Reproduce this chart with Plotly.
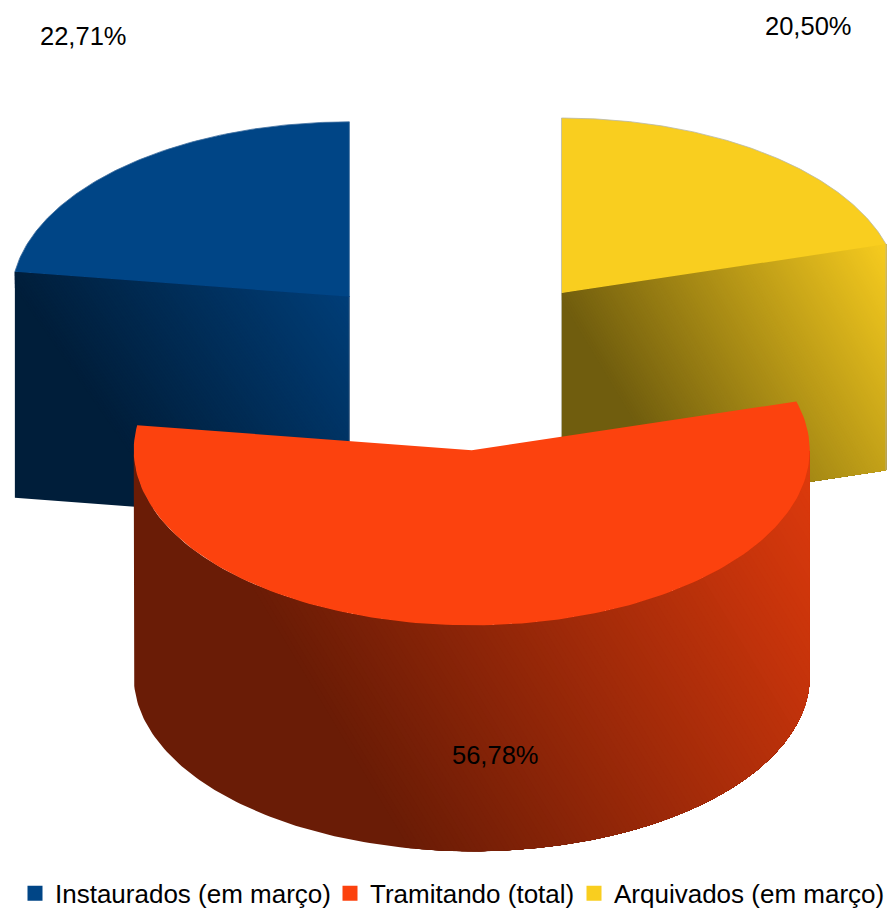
import numpy as np
import plotly.graph_objects as go

# Data
categories = ["Instaurados (em março)", "Tramitando (total)", "Arquivados (em março)"]
values = [22.71, 56.78, 20.50]
colors = ["#004586", "#FC420E", "#F9CE1F"]
label_xy = [(83, 36), (495, 755), (808, 26)]
legend_text_x = [55, 370, 614]

# Drawing order of slices clockwise from 12 o'clock
clockwise = [2, 1, 0]

# Pseudo-3D projection (page pixels on 1:1 hidden axes)
CX, CY, RX, RY, DEPTH, EXPLODE = 460.0, 363.0, 338.0, 175.0, 226.0, 0.5
FONT = "Liberation Sans"
STEP = 0.004
W, H = 892, 915

total = sum(values)
spans = {}
cursor = 0.0
for i in clockwise:
    a = values[i] / total * 2 * np.pi
    spans[i] = (cursor, cursor + a)
    cursor += a


def apex(i):
    a0, a1 = spans[i]
    mid = (a0 + a1) / 2
    return CX + EXPLODE * RX * np.sin(mid), CY - EXPLODE * RY * np.cos(mid)


def rim(i, t):
    ax, ay = apex(i)
    return ax + RX * np.sin(t), ay - RY * np.cos(t)


def rgb_scale(hex_color, s):
    r, g, b = [int(hex_color[k:k + 2], 16) for k in (1, 3, 5)]
    s = min(s, 1.0)
    return f"rgb({round(r * s)},{round(g * s)},{round(b * s)})"


def clip_halfplane(px, py, f, level):
    """Keep the part of a polygon where the linear tone f(x, y) >= level."""
    ox, oy = [], []
    n = len(px)
    for k in range(n):
        x0, y0, x1, y1 = px[k], py[k], px[(k + 1) % n], py[(k + 1) % n]
        v0, v1 = f(x0, y0) - level, f(x1, y1) - level
        if v0 >= 0:
            ox.append(x0)
            oy.append(y0)
        if (v0 >= 0) != (v1 >= 0):
            u = v0 / (v0 - v1)
            ox.append(x0 + u * (x1 - x0))
            oy.append(y0 + u * (y1 - y0))
    return ox, oy


def add_wall(fig, color, xs_top, ys_top, tone, floor):
    """Extrude a top edge downward and paint nested tone bands, dark to light."""
    px = [float(v) for v in xs_top] + [float(v) for v in xs_top[::-1]]
    py = [float(v) for v in ys_top] + [float(v) + DEPTH for v in ys_top[::-1]]
    top = max(tone(x, y) for x, y in zip(px, py))
    # Base band covers the whole wall at the darkest tone
    fig.add_trace(go.Scatter(x=px + px[:1], y=py + py[:1], mode="lines", fill="toself",
                             fillcolor=rgb_scale(color, floor), line=dict(width=0),
                             showlegend=False, hoverinfo="skip"))
    for level in np.arange(floor + STEP, top + STEP, STEP):
        qx, qy = clip_halfplane(px, py, tone, level)
        if len(qx) < 3:
            continue
        fig.add_trace(go.Scatter(x=qx + qx[:1], y=qy + qy[:1], mode="lines", fill="toself",
                                 fillcolor=rgb_scale(color, level), line=dict(width=0),
                                 showlegend=False, hoverinfo="skip"))


def add_top(fig, i):
    a0, a1 = spans[i]
    t = np.linspace(a0, a1, 160)
    x, y = rim(i, t)
    ax, ay = apex(i)
    fig.add_trace(go.Scatter(x=[ax, *x, ax], y=[ay, *y, ay], mode="lines", fill="toself",
                             fillcolor=colors[i], line=dict(width=0),
                             showlegend=False, hoverinfo="skip"))
    return x, y


def add_edge(fig, x, y, color):
    fig.add_trace(go.Scatter(x=list(x), y=list(y), mode="lines", line=dict(color=color, width=0.8),
                             showlegend=False, hoverinfo="skip"))


fig = go.Figure()

# Instaurados: straight cut wall
i = 0
ax, ay = apex(i)
ex, ey = rim(i, spans[i][0])
add_wall(fig, colors[i], [ex, ax], [ey, ay],
         lambda x, y: 0.45 + 0.0014 * ((x - ex) - 0.7 * (y - ey)), 0.43)
rx_, ry_ = add_top(fig, i)
add_edge(fig, [*rx_, ax], [*ry_, ay], "#3f6f9f")
add_edge(fig, [ax, ax], [ay, ay + DEPTH], "#7f93a8")

# Arquivados: straight cut wall
i = 2
ax, ay = apex(i)
ex, ey = rim(i, spans[i][1])
add_wall(fig, colors[i], [ax, ex], [ay, ey],
         lambda x, y: 0.46 + 0.0015 * ((x - ax) - 0.6 * (y - ay)), 0.45)
rx_, ry_ = add_top(fig, i)
add_edge(fig, [ax, *rx_], [ay, *ry_], "#b8b8a8")
add_edge(fig, [ax, ax], [ay, ay + DEPTH], "#b8b8a8")
add_edge(fig, [ex, ex], [ey, ey + DEPTH], "#b8b8a8")

# Tramitando: curved outer wall, only the front half of the rim faces the viewer
i = 1
a0, a1 = spans[i]
t = np.linspace(max(a0, np.pi / 2), min(a1, 3 * np.pi / 2), 170)
xs, ys = rim(i, t)
add_wall(fig, colors[i], xs, ys,
         lambda x, y: 0.42 + 0.00072 * ((x - 0.6 * (y - 500)) - 195), 0.42)
add_top(fig, i)

# Legend entries: one legend per entry so each can sit at its own position
legend_layout = {}
for k, (name, col, tx) in enumerate(zip(categories, colors, legend_text_x)):
    key = "legend" if k == 0 else f"legend{k + 1}"
    fig.add_trace(go.Scatter(x=[None], y=[None], mode="markers", name=name, legend=key,
                             marker=dict(symbol="square", size=15, color=col)))
    legend_layout[key] = dict(x=(tx - 40) / W, xanchor="left", y=-0.002, yanchor="bottom",
                              font=dict(family=FONT, size=26, color="#000000"),
                              itemwidth=30, bgcolor="rgba(0,0,0,0)")

# Data labels
for v, (lx, ly) in zip(values, label_xy):
    fig.add_annotation(x=lx, y=ly, text=f"{v:.2f}".replace(".", ",") + "%", showarrow=False,
                       font=dict(family=FONT, size=25.5, color="#000000"))

fig.update_layout(
    width=W, height=H, margin=dict(l=0, r=0, t=0, b=0, autoexpand=False),
    paper_bgcolor="white", plot_bgcolor="white",
    xaxis=dict(range=[0, W], visible=False, fixedrange=True),
    yaxis=dict(range=[H, 0], visible=False, fixedrange=True),
    showlegend=True,
    **legend_layout,
)

fig.write_html("out.html", config={"displayModeBar": False},
               post_script="document.body.style.margin='0';document.body.style.overflow='hidden';")
